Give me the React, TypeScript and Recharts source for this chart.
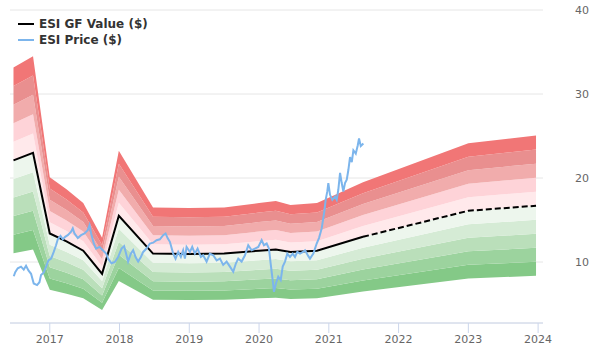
import { ComposedChart, Area, Line, XAxis, YAxis, CartesianGrid } from "recharts";

// GF Value: historical points (solid) and projection (dashed)
const gfDates = [2016.48, 2016.76, 2017.0, 2017.24, 2017.48, 2017.75, 2017.99, 2018.48, 2019.0, 2019.5, 2020.0, 2020.24, 2020.45, 2020.83, 2021.49];
const gfValues = [22.1, 23.0, 13.4, 12.45, 11.35, 8.6, 15.5, 11.0, 10.95, 11.0, 11.35, 11.5, 11.2, 11.35, 13.0];
const projDates = [2021.49, 2023.0, 2023.97];
const projValues = [13.0, 16.1, 16.7];

// share price
const priceDates = [
  2016.484, 2016.505, 2016.541, 2016.588, 2016.627, 2016.66, 2016.694, 2016.732, 2016.77, 2016.818,
  2016.852, 2016.875, 2016.914, 2016.947, 2016.981, 2017.019, 2017.057, 2017.09, 2017.115, 2017.154,
  2017.187, 2017.22, 2017.258, 2017.306, 2017.33, 2017.354, 2017.402, 2017.449, 2017.498, 2017.545,
  2017.57, 2017.593, 2017.631, 2017.664, 2017.713, 2017.76, 2017.808, 2017.836, 2017.885, 2017.933,
  2017.98, 2018.029, 2018.066, 2018.1, 2018.123, 2018.162, 2018.195, 2018.23, 2018.267, 2018.306,
  2018.339, 2018.387, 2018.435, 2018.482, 2018.531, 2018.578, 2018.626, 2018.66, 2018.689, 2018.722,
  2018.769, 2018.803, 2018.841, 2018.879, 2018.912, 2018.937, 2018.961, 2019.009, 2019.042, 2019.08,
  2019.119, 2019.166, 2019.199, 2019.248, 2019.296, 2019.343, 2019.392, 2019.439, 2019.486, 2019.535,
  2019.583, 2019.63, 2019.669, 2019.702, 2019.75, 2019.798, 2019.845, 2019.894, 2019.941, 2019.989,
  2020.037, 2020.07, 2020.109, 2020.142, 2020.166, 2020.195, 2020.214, 2020.242, 2020.275, 2020.31,
  2020.339, 2020.372, 2020.405, 2020.443, 2020.482, 2020.515, 2020.548, 2020.587, 2020.63, 2020.659,
  2020.706, 2020.73, 2020.778, 2020.802, 2020.826, 2020.859, 2020.898, 2020.935, 2020.955, 2020.978,
  2020.993, 2021.017, 2021.05, 2021.089, 2021.113, 2021.136, 2021.161, 2021.185, 2021.208, 2021.232,
  2021.257, 2021.28, 2021.304, 2021.329, 2021.352, 2021.386, 2021.415, 2021.433, 2021.458, 2021.495,
];
const priceValues = [
  8.3, 8.8, 9.25, 9.45, 9.1, 9.55, 9.0, 8.6, 7.45, 7.26,
  7.6, 8.45, 8.75, 9.45, 10.2, 10.4, 11.2, 12.0, 12.7, 13.1,
  12.7, 13.0, 13.2, 13.6, 14.0, 13.4, 12.85, 13.2, 13.4, 13.8,
  14.4, 13.4, 12.2, 11.6, 11.8, 11.4, 11.0, 10.4, 9.85, 10.0,
  10.6, 11.6, 11.9, 10.8, 10.05, 11.0, 11.4, 10.6, 10.05, 10.6,
  11.2, 11.6, 12.2, 12.3, 12.6, 12.7, 13.2, 13.4, 12.85, 12.4,
  11.0, 10.4, 11.2, 10.6, 11.4, 10.4, 11.8, 11.2, 11.8, 11.0,
  11.6, 10.6, 10.8, 10.05, 11.0, 10.8, 10.2, 10.4, 9.65, 10.05,
  9.45, 8.85, 9.85, 10.4, 10.05, 10.8, 12.0, 11.4, 11.6, 11.8,
  12.6, 12.0, 12.2, 11.6, 9.85, 7.85, 6.45, 7.45, 8.25, 7.85,
  9.45, 10.05, 11.0, 10.6, 11.0, 10.6, 11.2, 11.0, 11.2, 11.4,
  10.7, 10.4, 11.0, 11.6, 12.2, 12.85, 14.0, 16.0, 17.4, 18.4,
  19.4, 18.0, 17.4, 17.8, 17.4, 18.6, 20.6, 19.4, 18.4, 19.4,
  19.8, 20.95, 22.5, 21.9, 23.3, 22.9, 23.9, 24.7, 23.8, 24.1,
];

const yearTicks = [2017, 2018, 2019, 2020, 2021, 2022, 2023, 2024];
const valueTicks = [10, 20, 30, 40];

// band edges as multiples of GF Value, bottom to top
const bandSteps = [0.5, 0.6, 0.7, 0.8, 0.9, 1.0, 1.1, 1.2, 1.3, 1.4, 1.5];
const bandColors = ["#84c987", "#9cd39e", "#badfba", "#d5ebd5", "#edf6ed", "#ffe9eb", "#fed3d8", "#f1acac", "#e98f8f", "#f17676"];

const gfHist = gfDates.map((t, i) => ({ t, v: gfValues[i] }));
const gfProj = projDates.map((t, i) => ({ t, v: projValues[i] }));
const priceRows = priceDates.map((t, i) => ({ t, v: priceValues[i] }));

const bandRows = [...gfHist, ...gfProj.slice(1)].map((p) => {
  const row: Record<string, any> = { t: p.t };
  bandColors.forEach((_, k) => {
    row["b" + k] = [p.v * bandSteps[k], p.v * bandSteps[k + 1]];
  });
  return row;
});

const axisText = { fontSize: 11, fill: "#666666" };

function LegendBox() {
  const item = (color: string, label: string) => (
    <div style={{ display: "flex", alignItems: "center", height: 16 }}>
      <span style={{ display: "inline-block", width: 16, height: 2, background: color, marginRight: 5 }} />
      <span style={{ fontSize: 12, fontWeight: "bold", color: "#333333" }}>{label}</span>
    </div>
  );
  return (
    <div style={{ position: "absolute", left: 18, top: 16 }}>
      {item("#000000", "ESI GF Value ($)")}
      {item("#7cb5ec", "ESI Price ($)")}
    </div>
  );
}

export default function App() {
  return (
    <div style={{ position: "relative", width: 600, height: 360, fontFamily: "'DejaVu Sans', sans-serif" }}>
      <style>{"body{margin:0}"}</style>
      <ComposedChart width={600} height={360} data={bandRows} margin={{ top: 10, right: 0, bottom: 0, left: 10 }}>
        <CartesianGrid vertical={false} stroke="#e6e6e6" />
        <XAxis
          dataKey="t"
          type="number"
          domain={[2016.43, 2024.07]}
          ticks={yearTicks}
          height={37}
          tickSize={10}
          stroke="#ccd6eb"
          tick={axisText}
        />
        <YAxis
          orientation="right"
          type="number"
          domain={[2.74, 40]}
          ticks={valueTicks}
          width={57}
          axisLine={false}
          tickLine={false}
          tickMargin={26}
          tick={{ ...axisText, textAnchor: "start" }}
        />
        {bandColors.map((c, k) => (
          <Area
            key={k}
            type="linear"
            dataKey={"b" + k}
            stroke="none"
            fill={c}
            fillOpacity={1}
            isAnimationActive={false}
          />
        ))}
        <Line data={gfHist} dataKey="v" type="linear" stroke="#000000" strokeWidth={2} dot={false} isAnimationActive={false} />
        <Line data={gfProj} dataKey="v" type="linear" stroke="#000000" strokeWidth={2} strokeDasharray="6 3" dot={false} isAnimationActive={false} />
        <Line data={priceRows} dataKey="v" type="linear" stroke="#7cb5ec" strokeWidth={2} dot={false} isAnimationActive={false} />
      </ComposedChart>
      <LegendBox />
    </div>
  );
}
